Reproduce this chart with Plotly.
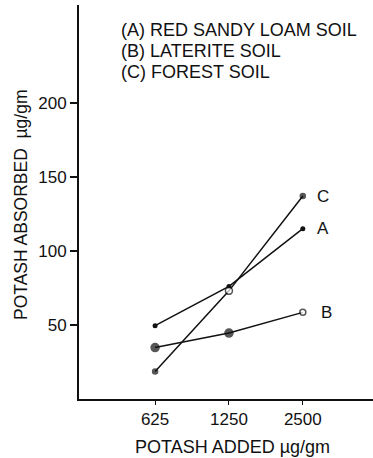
import plotly.graph_objects as go

potash_added = ["625", "1250", "2500"]
soil_a = [49.5, 76, 115]     # Red sandy loam soil
soil_b = [34.7, 44.5, 58.5]  # Laterite soil
soil_c = [18.6, 73, 137]     # Forest soil
y_ticks = [50, 100, 150, 200]
legend_lines = ["(A) RED SANDY LOAM SOIL", "(B) LATERITE SOIL", "(C) FOREST SOIL"]
x_title = "POTASH ADDED \u00b5g/gm"
y_title = "POTASH ABSORBED\u00a0\u00a0\u00b5g/gm"

INK = "#111111"
FONT = "Liberation Sans, Arial, sans-serif"
W, H = 373, 458
L, R, T, B = 79, 0, 5, 59
PW, PH = W - L - R, H - T - B


def px(x):
    return (x - L) / PW


def py(y):
    return 1 - (y - T) / PH


fig = go.Figure()
fig.add_trace(go.Scatter(x=potash_added, y=soil_a, mode="lines+markers",
                         line=dict(color=INK, width=1.5),
                         marker=dict(color=INK, size=5, symbol="circle")))
fig.add_trace(go.Scatter(x=potash_added, y=soil_b, mode="lines+markers",
                         line=dict(color=INK, width=1.5),
                         marker=dict(color=[INK, INK, "white"], size=[8, 8, 6],
                                     symbol="circle", line=dict(color=INK, width=1.5))))
fig.add_trace(go.Scatter(x=potash_added, y=soil_c, mode="lines+markers",
                         line=dict(color=INK, width=1.5),
                         marker=dict(color=[INK, "white", INK], size=[5, 7, 5],
                                     symbol="circle", line=dict(color=INK, width=1.5))))

# end labels
for lab, ys, dx in [("A", soil_a, 0.17), ("B", soil_b, 0.22), ("C", soil_c, 0.17)]:
    fig.add_annotation(x=2 + dx, y=ys[-1], xref="x", yref="y", text=lab, showarrow=False,
                       xanchor="left", font=dict(size=17, color=INK, family=FONT))

for i, t in enumerate(legend_lines):
    fig.add_annotation(x=px(119), y=py(30 + 21 * i), xref="paper", yref="paper", text=t,
                       showarrow=False, xanchor="left", yanchor="middle",
                       font=dict(size=18, color=INK, family=FONT))

fig.add_annotation(x=px(232), y=py(447), xref="paper", yref="paper", text=x_title,
                   showarrow=False, xanchor="center", yanchor="middle",
                   font=dict(size=18, color=INK, family=FONT))
fig.add_annotation(x=px(21), y=py(205), xref="paper", yref="paper", text=y_title,
                   textangle=-90, showarrow=False, xanchor="center", yanchor="middle",
                   font=dict(size=17.5, color=INK, family=FONT))

fig.update_layout(
    width=W, height=H,
    margin=dict(l=L, r=R, t=T, b=B, autoexpand=False),
    paper_bgcolor="white", plot_bgcolor="white",
    showlegend=False,
    font=dict(family=FONT, color=INK, size=17),
    xaxis=dict(type="category", range=[-1.03, 2.95], showgrid=False, zeroline=False,
               showline=True, linecolor=INK, linewidth=2, ticks="outside", ticklen=4,
               tickwidth=1, tickcolor=INK, tickfont=dict(size=17), automargin=False),
    yaxis=dict(range=[0, 266], tickvals=y_ticks, showgrid=False, zeroline=False,
               showline=True, linecolor=INK, linewidth=2, ticks="outside", ticklen=7,
               tickwidth=1.5, tickcolor=INK, tickfont=dict(size=17), automargin=False),
)

fig.write_html("out.html", config={"displayModeBar": False},
               post_script="document.body.style.margin='0';")
